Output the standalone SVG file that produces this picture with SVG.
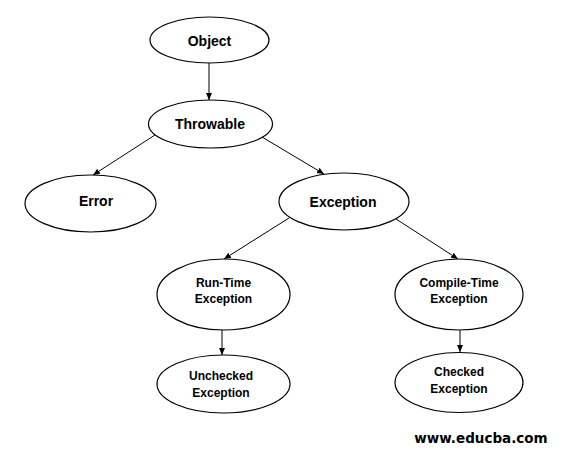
<svg xmlns="http://www.w3.org/2000/svg" width="567" height="455" viewBox="0 0 567 455">
<style>
.n ellipse{fill:#fff;stroke:#000;stroke-width:1.2}
.t{font-family:"Liberation Sans",Arial,sans-serif;font-weight:bold;fill:#000;text-anchor:middle}
.b{font-size:14px}
.s{font-size:12px}
#edges line{stroke:#000;stroke-width:1}
</style>
<defs>
<marker id="ah" markerWidth="8" markerHeight="8" refX="7" refY="4" orient="auto" markerUnits="userSpaceOnUse">
<path d="M0,1 L7,4 L0,7 Z" fill="#000"/>
</marker>
</defs>
<rect width="567" height="455" fill="#fff"/>
<g id="edges">
<line x1="209" y1="63" x2="209" y2="100" marker-end="url(#ah)"/>
<line x1="155" y1="135" x2="93" y2="175" marker-end="url(#ah)"/>
<line x1="262" y1="137" x2="324" y2="174" marker-end="url(#ah)"/>
<line x1="289" y1="218" x2="224" y2="259" marker-end="url(#ah)"/>
<line x1="396" y1="219" x2="458" y2="259" marker-end="url(#ah)"/>
<line x1="222" y1="330" x2="222" y2="355" marker-end="url(#ah)"/>
<line x1="460" y1="330" x2="460" y2="352" marker-end="url(#ah)"/>
</g>
<g id="object" class="n"><ellipse cx="209.5" cy="40" rx="59.5" ry="23"/><text class="t b" x="209.5" y="46">Object</text></g>
<g id="throwable" class="n"><ellipse cx="210.5" cy="124" rx="62" ry="24"/><text class="t b" x="210" y="129">Throwable</text></g>
<g id="error" class="n"><ellipse cx="90.5" cy="203.5" rx="65.5" ry="28.5"/><text class="t b" x="96" y="206">Error</text></g>
<g id="exception" class="n"><ellipse cx="344" cy="201.5" rx="65" ry="28.5"/><text class="t b" x="343" y="207">Exception</text></g>
<g id="runtime" class="n"><ellipse cx="223.5" cy="294.5" rx="66.5" ry="35.5"/><text class="t s" x="223.5" y="287">Run-Time</text><text class="t s" x="223.5" y="303">Exception</text></g>
<g id="compiletime" class="n"><ellipse cx="459" cy="294.5" rx="64" ry="35.5"/><text class="t s" x="459" y="287">Compile-Time</text><text class="t s" x="459" y="303">Exception</text></g>
<g id="unchecked" class="n"><ellipse cx="223.5" cy="384" rx="66.5" ry="29"/><text class="t s" x="221" y="380">Unchecked</text><text class="t s" x="221" y="397">Exception</text></g>
<g id="checked" class="n"><ellipse cx="459" cy="382.5" rx="64" ry="30"/><text class="t s" x="459" y="376">Checked</text><text class="t s" x="459" y="393">Exception</text></g>
<text x="481" y="443" style="font-family:'DejaVu Sans',Verdana,sans-serif;font-weight:bold;font-size:13.5px;text-anchor:middle">www.educba.com</text>
</svg>
